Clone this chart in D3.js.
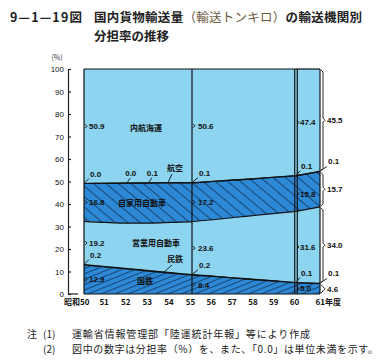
<!DOCTYPE html>
<html>
<head>
<meta charset="utf-8">
<script src="https://cdn.jsdelivr.net/npm/d3@7"></script>
<style>
body { margin: 0; background: #fff; }
text { font-family: "Noto Sans CJK JP", sans-serif; }
.num { font-family: "Liberation Sans", "DejaVu Sans", sans-serif; font-size: 8px; font-weight: bold; fill: #111; }
</style>
</head>
<body>
<svg id="chart" width="382" height="362"></svg>
<script>
// fiscal years (昭和)
let years = [50, 51, 52, 53, 54, 55, 56, 57, 58, 59, 60, 61];
// shares in % (bottom to top)
let kokutetsu = [12.9, 12.0, 11.1, 10.2, 9.3, 8.4, 7.8, 7.1, 6.4, 5.7, 5.0, 4.6];
let mintetsu  = [0.2, 0.2, 0.2, 0.2, 0.2, 0.2, 0.2, 0.1, 0.1, 0.1, 0.1, 0.1];
let eigyo     = [19.2, 19.6, 20.2, 21.1, 22.3, 23.6, 25.0, 26.8, 28.4, 30.0, 31.6, 34.0];
let jikayo    = [16.8, 17.4, 17.8, 17.8, 17.6, 17.2, 17.0, 16.6, 16.3, 16.1, 15.8, 15.7];
let koku      = [0.0, 0.0, 0.0, 0.1, 0.1, 0.1, 0.1, 0.1, 0.1, 0.1, 0.1, 0.1];
let naiko     = [50.9, 50.8, 50.7, 50.6, 50.5, 50.6, 49.9, 49.3, 48.7, 48.0, 47.4, 45.5];
let yTicks = [0, 10, 20, 30, 40, 50, 60, 70, 80, 90, 100];

let keys = ["kokutetsu", "mintetsu", "eigyo", "jikayo", "koku", "naiko"];
let cols = { kokutetsu: kokutetsu, mintetsu: mintetsu, eigyo: eigyo, jikayo: jikayo, koku: koku, naiko: naiko };
let rows = years.map(function (yr, i) {
    let r = { year: yr };
    keys.forEach(function (k) { r[k] = cols[k][i]; });
    return r;
});
let series = d3.stack().keys(keys)(rows);

let svg = d3.select("#chart");
let x = d3.scaleLinear().domain([50, 55, 60, 61]).range([84, 192, 296, 320]);
let y = d3.scaleLinear().domain([0, 100]).range([294, 69]);

let light = "#8cd4ef";
let dark = "#2d88d6";

// hatch patterns
let defs = svg.append("defs");
defs.append("pattern").attr("id", "hatchA").attr("patternUnits", "userSpaceOnUse")
    .attr("width", 8).attr("height", 8).attr("patternTransform", "rotate(40)")
    .append("line").attr("x1", 0).attr("y1", 0).attr("x2", 8).attr("y2", 0)
    .attr("stroke", "#0a1a30").attr("stroke-width", 1.2);
defs.append("pattern").attr("id", "hatchB").attr("patternUnits", "userSpaceOnUse")
    .attr("width", 6).attr("height", 5).attr("patternTransform", "rotate(-22)")
    .append("line").attr("x1", 0).attr("y1", 0).attr("x2", 6).attr("y2", 0)
    .attr("stroke", "#0a1a30").attr("stroke-width", 1.2);

let fills = { kokutetsu: dark, mintetsu: dark, eigyo: light, jikayo: dark, koku: dark, naiko: light };
let hatch = { kokutetsu: "url(#hatchB)", jikayo: "url(#hatchA)" };

function topY(d) { return y(Math.min(d[1], 100)); }

let segments = [[0, 11, d3.curveMonotoneX], [10, 12, d3.curveLinear]];
segments.forEach(function (seg) {
    let area = d3.area()
        .x(function (d) { return x(d.data.year); })
        .y0(function (d) { return y(d[0]); })
        .y1(topY)
        .curve(seg[2]);
    let line = d3.line()
        .x(function (d) { return x(d.data.year); })
        .y(topY)
        .curve(seg[2]);
    let g = svg.append("g");
    series.forEach(function (s) {
        let pts = s.slice(seg[0], seg[1]);
        g.append("path").attr("d", area(pts)).attr("fill", fills[s.key]);
        if (hatch[s.key]) {
            g.append("path").attr("d", area(pts)).attr("fill", hatch[s.key]);
        }
    });
    series.forEach(function (s) {
        let pts = s.slice(seg[0], seg[1]);
        g.append("path").attr("d", line(pts)).attr("fill", "none")
            .attr("stroke", "#111").attr("stroke-width", 1.2);
    });
});

// vertical frame lines
[x(50), x(55), x(60) - 1.3, x(60) + 1.3, x(61)].forEach(function (xx) {
    svg.append("line").attr("x1", xx).attr("x2", xx).attr("y1", y(100)).attr("y2", y(0))
        .attr("stroke", "#111").attr("stroke-width", 1.2);
});
svg.append("line").attr("x1", x(50)).attr("x2", x(61)).attr("y1", y(0)).attr("y2", y(0))
    .attr("stroke", "#111").attr("stroke-width", 1.2);

// y axis
let yAxis = d3.axisLeft(y).tickValues(yTicks).tickSizeInner(-3).tickSizeOuter(0).tickPadding(4);
let yg = svg.append("g").attr("transform", "translate(68,0)").call(yAxis);
yg.selectAll("text").attr("class", "num").style("font-weight", "normal").attr("font-family", null).attr("font-size", null);
yg.selectAll("line,path").attr("stroke", "#222").attr("stroke-width", 1.2);
svg.append("line").attr("x1", 68).attr("x2", 78).attr("y1", y(0)).attr("y2", y(0))
    .attr("stroke", "#222").attr("stroke-width", 1.2);
svg.append("text").attr("x", 57).attr("y", 60).attr("text-anchor", "middle")
    .attr("font-size", 7).attr("fill", "#333").text("(%)");

// x axis labels
let xAxis = d3.axisBottom(x).tickValues(years).tickSize(0).tickPadding(5)
    .tickFormat(function (d) { return d == 50 ? "昭和50" : d == 61 ? "61年度" : d; });
let xg = svg.append("g").attr("transform", "translate(0," + y(0) + ")").call(xAxis);
xg.select(".domain").remove();
xg.selectAll("text").attr("font-size", 8).attr("font-weight", "bold").attr("fill", "#111")
    .attr("font-family", "'Noto Sans CJK JP', sans-serif")
    .attr("text-anchor", function (d) { return d == 50 ? "end" : d == 61 ? "start" : "middle"; })
    .attr("dx", function (d) { return d == 50 ? 5 : d == 61 ? -5 : -2; });

// value labels
function num(txt, xx, yy, anchor) {
    svg.append("text").attr("class", "num").attr("x", xx).attr("y", yy)
        .attr("text-anchor", anchor || "start").text(txt);
}
function pt(k, i) {
    let s = series[keys.indexOf(k)][i];
    return { x: x(years[i]), y0: y(s[0]), y1: topY(s), mid: (y(s[0]) + topY(s)) / 2 };
}
let bigKeys = ["kokutetsu", "eigyo", "jikayo", "naiko"];
let thinKeys = ["mintetsu", "koku"];
[[0, 5], [5, 6], [10, 4], [11, 7]].forEach(function (c) {
    let i = c[0], dx = c[1];
    bigKeys.forEach(function (k) {
        let p = pt(k, i);
        num(cols[k][i].toFixed(1), p.x + dx, p.mid + 3);
        let bx = i == 11 ? p.x + 1 : p.x;
        if (i == 11) {
            svg.append("path").attr("fill", "none").attr("stroke", "#111").attr("stroke-width", 0.9)
                .attr("d", "M" + bx + "," + (p.y1 + 1) + "L" + (bx + 2) + "," + (p.y1 + 3) + "L" + (bx + 2) + "," + (p.mid - 2) +
                    "L" + (bx + 4) + "," + p.mid + "L" + (bx + 2) + "," + (p.mid + 2) + "L" + (bx + 2) + "," + (p.y0 - 3) +
                    "L" + bx + "," + (p.y0 - 1));
        } else {
            svg.append("path").attr("fill", "none").attr("stroke", "#111").attr("stroke-width", 0.9)
                .attr("d", "M" + (bx + 1) + "," + (p.mid - 2) + "L" + (bx + 3) + "," + p.mid + "L" + (bx + 1) + "," + (p.mid + 2));
        }
    });
    thinKeys.forEach(function (k) {
        let p = pt(k, i);
        num(cols[k][i].toFixed(1), p.x + dx + 1, p.y1 - 7);
        svg.append("line").attr("x1", p.x + dx).attr("y1", p.y1 - 5).attr("x2", p.x + 0.5).attr("y2", p.y1 - 0.5)
            .attr("stroke", "#111").attr("stroke-width", 0.9);
    });
});
// extra 航空 labels at 52, 53
[2, 3].forEach(function (i) {
    let p = pt("koku", i);
    num(koku[i].toFixed(1), p.x - 2, p.y1 - 7);
    svg.append("line").attr("x1", p.x + 3).attr("y1", p.y1 - 5).attr("x2", p.x).attr("y2", p.y1 - 0.5)
        .attr("stroke", "#111").attr("stroke-width", 0.9);
});

// layer names
function name(txt, xx, yy) {
    svg.append("text").attr("x", xx).attr("y", yy).attr("text-anchor", "middle")
        .attr("font-size", 8).attr("font-weight", "bold").attr("fill", "#111").text(txt);
}
name("内航海運", 146, 131);
name("航空", 175, 171);
name("自家用自動車", 142, 206);
name("営業用自動車", 156, 246);
name("民鉄", 175, 262);
name("国鉄", 145, 284);
let pk = pt("koku", 4);
svg.append("line").attr("x1", 172).attr("y1", 174).attr("x2", 168).attr("y2", pk.y1)
    .attr("stroke", "#111").attr("stroke-width", 0.9);
let pm = pt("mintetsu", 4);
svg.append("line").attr("x1", 172).attr("y1", 265).attr("x2", 164).attr("y2", pm.y1 - 0.5)
    .attr("stroke", "#111").attr("stroke-width", 0.9);

// title
svg.append("text").attr("x", 10).attr("y", 22).attr("font-size", 12.5).attr("font-weight", "bold")
    .attr("fill", "#222").attr("textLength", 72).text("9—1—19図");
let t1 = svg.append("text").attr("x", 94).attr("y", 22).attr("font-size", 12.5).attr("font-weight", "bold")
    .attr("fill", "#222").attr("textLength", 268);
t1.append("tspan").text("国内貨物輸送量");
t1.append("tspan").attr("font-weight", "normal").attr("fill", "#6b5a40").text("（輸送トンキロ）");
t1.append("tspan").text("の輸送機関別");
svg.append("text").attr("x", 94).attr("y", 41).attr("font-size", 12.5).attr("font-weight", "bold")
    .attr("fill", "#222").text("分担率の推移");

// notes
function note(txt, xx, yy, len) {
    let t = svg.append("text").attr("x", xx).attr("y", yy).attr("font-size", 10).attr("fill", "#222").text(txt);
    if (len) t.attr("textLength", len);
}
note("注", 27, 338);
note("(1)", 43, 338);
note("運輸省情報管理部「陸運統計年報」等により作成", 72, 338, 238);
note("(2)", 43, 353);
note("図中の数字は分担率（%）を、また、「0.0」は単位未満を示す。", 72, 353, 306);
</script>
</body>
</html>
